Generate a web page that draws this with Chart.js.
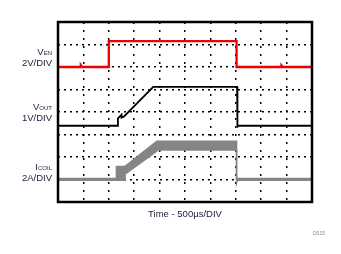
<!DOCTYPE html>
<html>
<head>
<meta charset="utf-8">
<script src="https://cdn.jsdelivr.net/npm/chart.js@4"></script>
<style>
  body { margin: 0; background: #fff; }
  #wrap { position: relative; width: 341px; height: 254px; font-family: "Liberation Sans", Arial, sans-serif; color: #1c1c3a; }
  .lbl { position: absolute; right: 289px; font-size: 9.5px; line-height: 10px; text-align: right; white-space: nowrap; }
  .lbl small { font-size: 6px; }
  #xlab { position: absolute; left: 58px; width: 254px; top: 208px; text-align: center; font-size: 9.5px; }
  #fig { position: absolute; left: 313px; top: 230px; font-size: 5px; color: #888; }
</style>
</head>
<body>
<div id="wrap">
  <canvas id="myChart" width="341" height="254"></canvas>
  <div class="lbl" style="top:47px">V<small>EN</small><br>2V/DIV</div>
  <div class="lbl" style="top:102px">V<small>OUT</small><br>1V/DIV</div>
  <div class="lbl" style="top:162px">I<small>COIL</small><br>2A/DIV</div>
  <div id="xlab">Time - 500µs/DIV</div>
  <div id="fig">D015</div>
</div>
<script>
const venT = [0, 0.9, 0.9, 0.95, 2.0, 2.0, 7.03, 7.03, 8.8, 8.8, 8.85, 10];
const venV = [6.0, 6.0, 6.08, 6.0, 6.0, 7.15, 7.15, 6.0, 6.0, 6.07, 6.0, 6.0];

const voutT = [0, 2.36, 2.36, 2.5, 2.5, 2.6, 3.75, 7.05, 7.05, 7.08, 10];
const voutV = [3.39, 3.39, 3.72, 3.88, 3.75, 3.8, 5.12, 5.12, 3.3, 3.39, 3.39];

const coilHiT = [0, 2.30, 2.30, 2.64, 3.89, 7.03, 7.03, 10];
const coilHiV = [1.04, 1.04, 1.58, 1.58, 2.70, 2.70, 1.04, 1.04];
const coilLoT = [0, 2.30, 2.64, 2.64, 3.94, 7.03, 7.03, 7.06, 10];
const coilLoV = [0.97, 0.97, 0.97, 1.24, 2.31, 2.31, 0.85, 0.97, 0.97];

const toPts = (xs, ys) => xs.map((x, i) => ({ x: x, y: ys[i] }));

// frame around the plot area
const frame = {
  id: 'frame',
  afterDraw(chart) {
    const a = chart.chartArea, c = chart.ctx;
    c.save();
    c.strokeStyle = '#000';
    c.lineWidth = 2.5;
    c.strokeRect(a.left, a.top, a.right - a.left, a.bottom - a.top);
    c.restore();
  }
};

const ctx = document.getElementById('myChart').getContext('2d');
new Chart(ctx, {
  type: 'scatter',
  data: {
    datasets: [
      { data: toPts(coilHiT, coilHiV), borderColor: '#858585', backgroundColor: '#858585', borderWidth: 1.5, fill: false },
      { data: toPts(coilLoT, coilLoV), borderColor: '#858585', backgroundColor: '#858585', borderWidth: 1.5, fill: '-1' },
      { data: toPts(voutT, voutV), borderColor: '#000', borderWidth: 1.8, fill: false },
      { data: toPts(venT, venV), borderColor: '#f00000', borderWidth: 2.3, fill: false }
    ]
  },
  options: {
    responsive: false,
    animation: false,
    showLine: true,
    elements: { point: { radius: 0 }, line: { tension: 0 } },
    layout: { padding: { left: 58, top: 22, right: 29, bottom: 52 } },
    plugins: { legend: { display: false }, tooltip: { enabled: false } },
    scales: {
      x: {
        type: 'linear', min: 0, max: 10,
        ticks: { display: false, stepSize: 1 },
        grid: { color: '#000', lineWidth: 1.5, drawTicks: false },
        border: { display: false, dash: [2, 6] }
      },
      y: {
        type: 'linear', min: 0, max: 8,
        ticks: { display: false, stepSize: 1 },
        grid: { color: '#000', lineWidth: 1.5, drawTicks: false },
        border: { display: false, dash: [2, 4] }
      }
    }
  },
  plugins: [frame]
});
</script>
</body>
</html>
